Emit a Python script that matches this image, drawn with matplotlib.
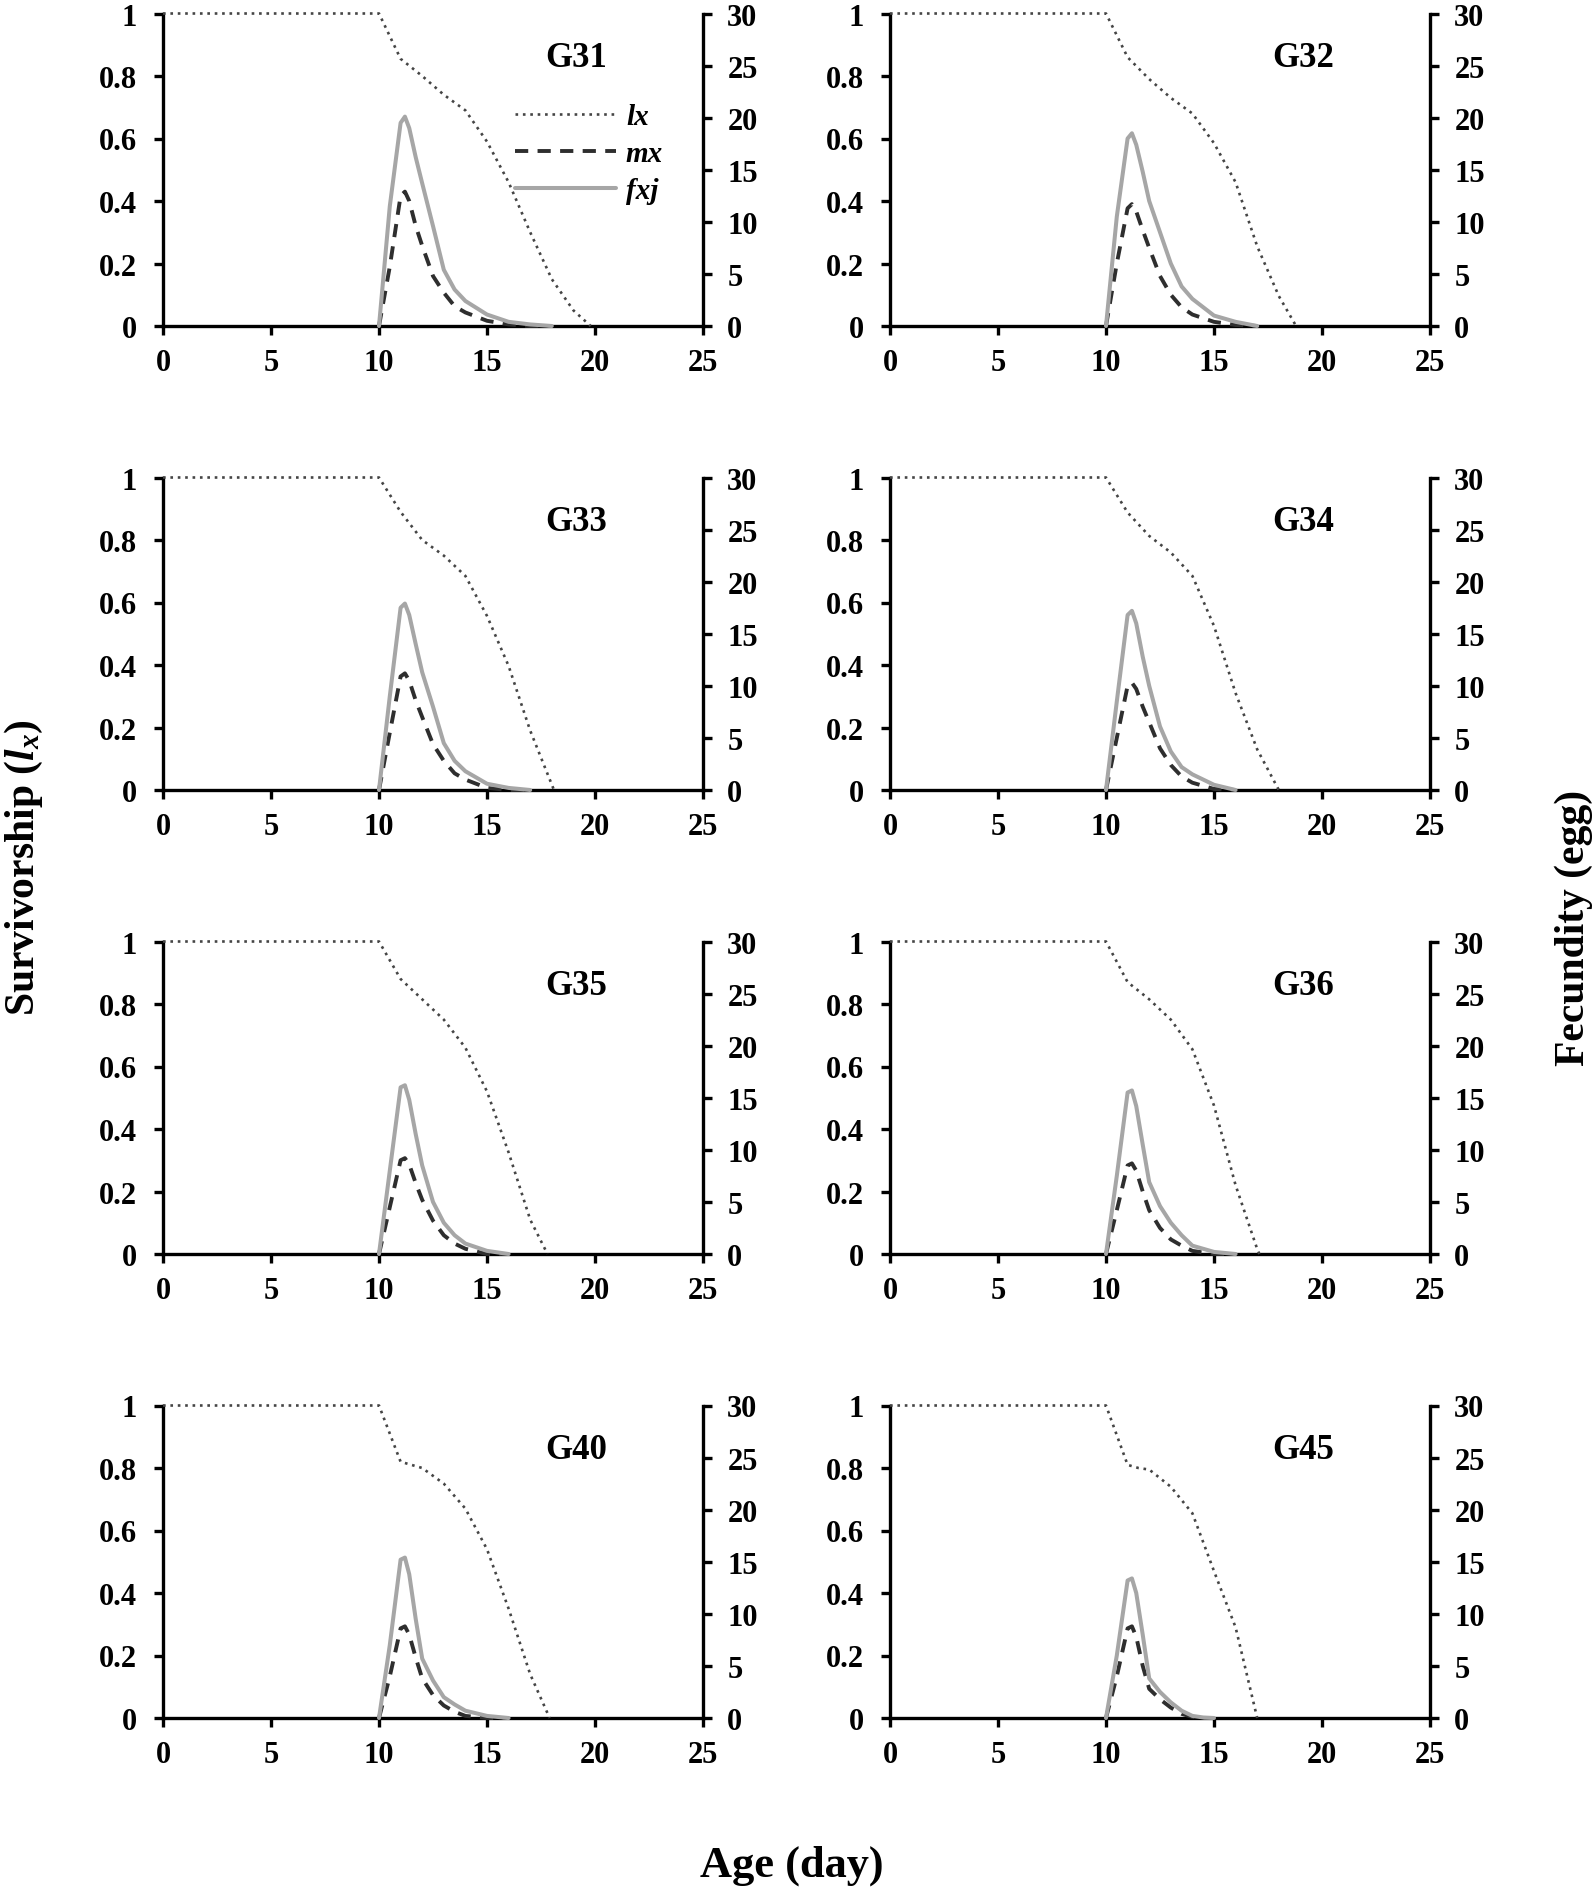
import matplotlib
matplotlib.use("Agg")
import matplotlib.pyplot as plt

plt.rcParams['font.family'] = ['Liberation Serif', 'DejaVu Serif']
plt.rcParams['font.weight'] = 'bold'
plt.rcParams['mathtext.fontset'] = 'custom'
plt.rcParams['mathtext.it'] = 'Liberation Serif:italic:bold'
plt.rcParams['mathtext.rm'] = 'Liberation Serif:bold'

# ---------------- data ----------------
panel_names = ["G31", "G32", "G33", "G34", "G35", "G36", "G40", "G45"]

G31_lx_age = [0, 10, 11, 12, 13, 14, 15, 16, 17, 18, 19, 19.8]
G31_lx = [1, 1, 0.855, 0.80, 0.74, 0.69, 0.59, 0.46, 0.30, 0.15, 0.05, 0]
G31_age = [10, 10.5, 11, 11.2, 11.4, 11.7, 12, 12.5, 13, 13.5, 14, 15, 16, 17, 18]
G31_fxj = [0, 11.5, 19.5, 20.1, 19.0, 16.2, 13.7, 9.6, 5.4, 3.5, 2.4, 1.1, 0.4, 0.15, 0]
G31_mx = [0, 5.7, 12.5, 12.9, 12.0, 9.6, 7.7, 4.8, 3.2, 1.9, 1.3, 0.5, 0.15, 0, 0]

G32_lx_age = [0, 10, 11, 12, 13, 14, 15, 16, 17, 18, 18.8]
G32_lx = [1, 1, 0.86, 0.79, 0.73, 0.68, 0.585, 0.46, 0.255, 0.096, 0]
G32_age = [10, 10.5, 11, 11.2, 11.4, 11.7, 12, 12.5, 13, 13.5, 14, 15, 16, 17]
G32_fxj = [0, 10.5, 18.0, 18.5, 17.4, 14.8, 12.0, 9.0, 6.0, 3.8, 2.6, 1.0, 0.4, 0]
G32_mx = [0, 6.0, 11.3, 11.7, 11.0, 9.2, 7.5, 4.8, 3.0, 1.8, 1.1, 0.4, 0.1, 0]

G33_lx_age = [0, 10, 11, 12, 13, 14, 15, 16, 17, 18.1]
G33_lx = [1, 1, 0.89, 0.80, 0.75, 0.685, 0.557, 0.397, 0.19, 0]
G33_age = [10, 10.5, 11, 11.2, 11.4, 11.7, 12, 12.5, 13, 13.5, 14, 15, 16, 17]
G33_fxj = [0, 9.0, 17.5, 17.9, 16.8, 14.0, 11.3, 8.0, 4.5, 2.8, 1.8, 0.6, 0.2, 0]
G33_mx = [0, 5.5, 10.9, 11.2, 10.5, 8.6, 7.0, 4.4, 2.8, 1.6, 1.0, 0.2, 0, 0]

G34_lx_age = [0, 10, 11, 12, 13, 14, 15, 16, 17, 18]
G34_lx = [1, 1, 0.888, 0.813, 0.76, 0.685, 0.525, 0.31, 0.13, 0]
G34_age = [10, 10.5, 11, 11.2, 11.4, 11.7, 12, 12.5, 13, 13.5, 14, 15, 16]
G34_fxj = [0, 8.5, 16.8, 17.2, 16.0, 12.8, 10.0, 6.1, 3.7, 2.2, 1.5, 0.5, 0]
G34_mx = [0, 5.0, 10.0, 10.3, 9.7, 8.0, 6.5, 4.0, 2.4, 1.3, 0.7, 0.1, 0]

G35_lx_age = [0, 10, 11, 12, 13, 14, 15, 16, 17, 17.8]
G35_lx = [1, 1, 0.88, 0.815, 0.75, 0.66, 0.52, 0.325, 0.11, 0]
G35_age = [10, 10.5, 11, 11.2, 11.4, 11.7, 12, 12.5, 13, 13.5, 14, 15, 16]
G35_fxj = [0, 8.0, 16.0, 16.2, 14.8, 11.5, 8.5, 5.0, 3.0, 1.8, 1.0, 0.3, 0]
G35_mx = [0, 4.5, 9.0, 9.2, 8.6, 6.8, 5.2, 3.2, 1.8, 1.0, 0.5, 0, 0]

G36_lx_age = [0, 10, 11, 12, 13, 14, 15, 16, 17, 17.1]
G36_lx = [1, 1, 0.87, 0.815, 0.75, 0.655, 0.475, 0.22, 0.016, 0]
G36_age = [10, 10.5, 11, 11.2, 11.4, 11.7, 12, 12.5, 13, 13.5, 14, 15, 16]
G36_fxj = [0, 7.5, 15.5, 15.7, 14.2, 10.5, 6.9, 4.6, 3.0, 1.8, 0.8, 0.2, 0]
G36_mx = [0, 4.2, 8.5, 8.7, 8.0, 6.0, 4.2, 2.5, 1.4, 0.8, 0.3, 0, 0]

G40_lx_age = [0, 10, 11, 11.5, 12, 13, 14, 15, 16, 17, 17.9]
G40_lx = [1, 1, 0.82, 0.81, 0.80, 0.75, 0.67, 0.54, 0.35, 0.14, 0]
G40_age = [10, 10.5, 11, 11.2, 11.4, 11.7, 12, 12.5, 13, 13.5, 14, 15, 16]
G40_fxj = [0, 7.0, 15.2, 15.4, 13.8, 9.5, 5.7, 3.6, 2.0, 1.3, 0.7, 0.2, 0]
G40_mx = [0, 4.0, 8.6, 8.8, 8.0, 5.8, 3.8, 2.2, 1.2, 0.6, 0.2, 0, 0]

G45_lx_age = [0, 10, 11, 11.5, 12, 13, 14, 15, 16, 17]
G45_lx = [1, 1, 0.81, 0.80, 0.795, 0.74, 0.655, 0.47, 0.29, 0]
G45_age = [10, 10.5, 11, 11.2, 11.4, 11.7, 12, 12.5, 13, 13.5, 14, 14.5, 15]
G45_fxj = [0, 6.0, 13.2, 13.4, 12.0, 8.0, 3.8, 2.5, 1.5, 0.7, 0.2, 0.05, 0]
G45_mx = [0, 4.0, 8.6, 8.8, 7.8, 5.0, 2.8, 1.8, 1.0, 0.4, 0.1, 0, 0]

panels = [
    (G31_lx_age, G31_lx, G31_age, G31_mx, G31_fxj),
    (G32_lx_age, G32_lx, G32_age, G32_mx, G32_fxj),
    (G33_lx_age, G33_lx, G33_age, G33_mx, G33_fxj),
    (G34_lx_age, G34_lx, G34_age, G34_mx, G34_fxj),
    (G35_lx_age, G35_lx, G35_age, G35_mx, G35_fxj),
    (G36_lx_age, G36_lx, G36_age, G36_mx, G36_fxj),
    (G40_lx_age, G40_lx, G40_age, G40_mx, G40_fxj),
    (G45_lx_age, G45_lx, G45_age, G45_mx, G45_fxj),
]

x_ticks = [0, 5, 10, 15, 20, 25]
left_ticks = [0, 0.2, 0.4, 0.6, 0.8, 1]
left_ticklabels = ["0", "0.2", "0.4", "0.6", "0.8", "1"]
right_ticks = [0, 5, 10, 15, 20, 25, 30]
legend_labels = ["lx", "mx", "fxj"]

# ---------------- layout ----------------
W, H = 1594, 1890
fig = plt.figure(figsize=(W / 100, H / 100), dpi=100)

col_left = [163, 890]
ax_w = 540
row_bottom = [327, 791, 1255, 1719]
ax_h = 312.5

lx_color = '#454545'
mx_color = '#2e2e2e'
fxj_color = '#a6a6a6'
tick_fs = 22
spine_lw = 2.4

for i, (name, (lxa, lx, fa, mx, fxj)) in enumerate(zip(panel_names, panels)):
    r, c = divmod(i, 2)
    left = col_left[c] / W
    bottom = 1 - row_bottom[r] / H
    ax = fig.add_axes([left, bottom, ax_w / W, ax_h / H])
    ax2 = ax.twinx()

    l1, = ax.plot(lxa, lx, color=lx_color, lw=1.9, linestyle=(0, (1, 1.8)),
                  clip_on=False, zorder=3)
    l2, = ax2.plot(fa, mx, color=mx_color, lw=2.8, linestyle=(0, (3.4, 2.4)),
                   clip_on=False, zorder=3)
    l3, = ax2.plot(fa, fxj, color=fxj_color, lw=2.9, solid_capstyle='round',
                   solid_joinstyle='round', clip_on=False, zorder=4)

    ax.set_xlim(0, 25)
    ax.set_ylim(0, 1)
    ax2.set_ylim(0, 30)
    ax.set_xticks(x_ticks)
    ax.set_yticks(left_ticks)
    ax.set_yticklabels(left_ticklabels)
    ax2.set_yticks(right_ticks)

    for s in ['top', 'right']:
        ax.spines[s].set_visible(False)
    for s in ['top', 'left', 'bottom']:
        ax2.spines[s].set_visible(False)
    ax.spines['left'].set_linewidth(spine_lw)
    ax.spines['bottom'].set_linewidth(spine_lw)
    ax2.spines['right'].set_linewidth(spine_lw)

    ax.tick_params(axis='y', direction='out', length=6.5, width=spine_lw,
                   labelsize=tick_fs, pad=12)
    ax.tick_params(axis='x', direction='out', length=6.5, width=spine_lw,
                   labelsize=tick_fs, pad=9)
    ax2.tick_params(axis='y', direction='out', length=6.5, width=spine_lw,
                    labelsize=tick_fs, pad=11)
    for lab in ax.get_xticklabels() + ax.get_yticklabels() + ax2.get_yticklabels():
        lab.set_fontweight('bold')

    ax.text(0.765, 0.86, name, transform=ax.transAxes, ha='center', va='center',
            fontsize=25, fontweight='bold')

    if i == 0:
        ax2.legend([l1, l2, l3], legend_labels, loc='upper left',
                   bbox_to_anchor=(0.652, 0.713), frameon=False,
                   handlelength=3.45, handletextpad=0.35, labelspacing=0.34,
                   borderaxespad=0, borderpad=0,
                   prop=dict(family='Liberation Serif', style='italic',
                             weight='bold', size=21))

fig.text(24 / W, 1 - 868 / H, r'Survivorship ($l_x$)', rotation=90,
         ha='center', va='center', fontsize=30, fontweight='bold')
fig.text(1574 / W, 1 - 928 / H, 'Fecundity (egg)', rotation=90,
         ha='center', va='center', fontsize=30, fontweight='bold')
fig.text(792 / W, 1 - 1866 / H, 'Age (day)', ha='center', va='center',
         fontsize=32, fontweight='bold')

fig.savefig('out.png', dpi=100)
